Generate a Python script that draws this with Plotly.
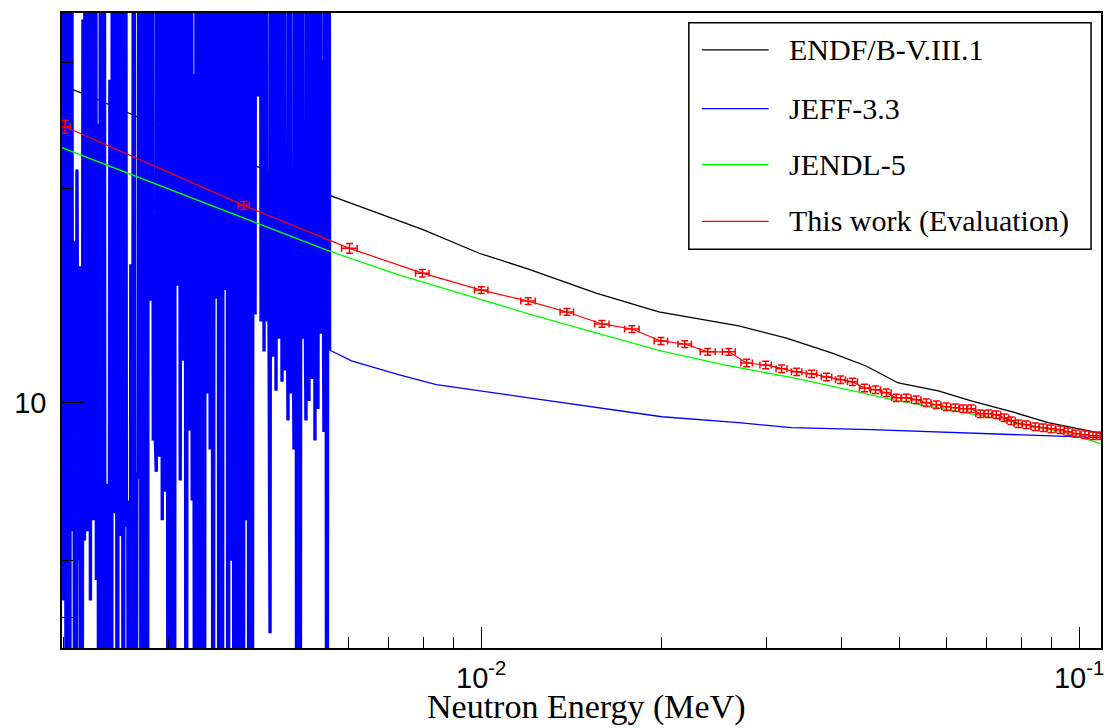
import plotly.graph_objects as go

# ---------------- data ----------------
# ENDF/B curve (black)
endf_energy = [0.001989, 0.002285, 0.003318, 0.004873, 0.005576, 0.007970, 0.009923, 0.01203,
               0.01556, 0.01982, 0.02312, 0.02696, 0.03230, 0.03855, 0.04393, 0.04985,
               0.05815, 0.06601, 0.07819, 0.08876, 0.1075, 0.1088]
endf_xs = [27.9, 26.62, 23.25, 20.44, 19.54, 17.51, 16.21, 15.39, 14.25, 13.41, 13.11, 12.82,
           12.33, 11.75, 11.27, 10.66, 10.39, 10.06, 9.683, 9.376, 9.080, 9.05]

# JEFF-3.3 resolved resonance region (blue, energies in keV)
jeff_res_energy_keV = [
    1.9890, 2.0005, 2.0121, 2.0237, 2.0354, 2.0472, 2.0590, 2.0709, 2.0829, 2.0950,
    2.1071, 2.1193, 2.1316, 2.1439, 2.1563, 2.1688, 2.1813, 2.1939, 2.2066, 2.2194,
    2.2322, 2.2451, 2.2581, 2.2712, 2.2843, 2.2975, 2.3108, 2.3242, 2.3376, 2.3511,
    2.3647, 2.3784, 2.3921, 2.4059, 2.4198, 2.4338, 2.4479, 2.4621, 2.4763, 2.4906,
    2.5050, 2.5195, 2.5341, 2.5488, 2.5635, 2.5783, 2.5932, 2.6082, 2.6233, 2.6385,
    2.6537, 2.6691, 2.6845, 2.7000, 2.7156, 2.7313, 2.7471, 2.7630, 2.7790, 2.7950,
    2.8112, 2.8275, 2.8438, 2.8603, 2.8768, 2.8934, 2.9102, 2.9270, 2.9439, 2.9609,
    2.9781, 2.9953, 3.0126, 3.0300, 3.0475, 3.0651, 3.0829, 3.1007, 3.1186, 3.1367,
    3.1548, 3.1731, 3.1914, 3.2099, 3.2284, 3.2471, 3.2659, 3.2848, 3.3038, 3.3229,
    3.3421, 3.3614, 3.3808, 3.4004, 3.4200, 3.4398, 3.4597, 3.4797, 3.4998, 3.5201,
    3.5404, 3.5609, 3.5815, 3.6022, 3.6230, 3.6440, 3.6651, 3.6863, 3.7076, 3.7290,
    3.7506, 3.7723, 3.7941, 3.8160, 3.8381, 3.8603, 3.8826, 3.9051, 3.9276, 3.9503,
    3.9732, 3.9962, 4.0193, 4.0425, 4.0659, 4.0894, 4.1130, 4.1368, 4.1607, 4.1848,
    4.2090, 4.2333, 4.2578, 4.2824, 4.3072, 4.3321, 4.3571, 4.3823, 4.4077, 4.4332,
    4.4588, 4.4846, 4.5105, 4.5366, 4.5628, 4.5892, 4.6157, 4.6424, 4.6693, 4.6963,
    4.7234, 4.7507, 4.7782, 4.8058, 4.8336, 4.8616, 4.8897, 4.9180, 4.9464, 4.9750,
    5.0038, 5.0327, 5.0618, 5.0911, 5.1205, 5.1501, 5.1799, 5.2099, 5.2400, 5.2703,
    5.3008, 5.3314, 5.3622, 5.3932, 5.4244, 5.4558, 5.4873, 5.5190, 5.5509]
jeff_res_xs = [
    3000, 5.28, 2400, 0.16, 4000, 0.24, 1900, 6.6, 16.85, 0.18,
    21.25, 6.01, 15.54, 0.14, 34.5, 6.41, 3200, 6.6, 2200, 5.28,
    4800, 6.84, 2600, 5.64, 24.64, 0.2, 3600, 0.3, 2000, 0.12,
    7.70, 0.24, 28.39, 0.16, 4400, 7.0, 2800, 0.18, 3300, 6.5,
    1900, 0.28, 3700, 6.7, 7.29, 0.16, 15.65, 0.22, 2500, 0.14,
    7.78, 8.0, 3100, 0.24, 4200, 0.18, 2700, 0.3, 3400, 13.9,
    2100, 8.85, 9.5, 8.0, 3800, 8.4, 2900, 6.84, 5000, 7.5,
    2300, 0.16, 3500, 0.24, 2600, 0.18, 3900, 14.6, 2000, 7.78,
    3000, 11.45, 4400, 0.16, 2500, 9.14, 3300, 7.29, 28.9, 0.24,
    3700, 0.18, 2200, 0.28, 4100, 0.14, 2800, 10.3, 3500, 8.6,
    2400, 0.18, 4600, 14.0, 2900, 0.16, 3200, 0.3, 2100, 14.4,
    3800, 0.18, 2600, 6.0, 4300, 0.24, 3000, 0.14, 2300, 0.22,
    3600, 0.18, 2700, 6.84, 4000, 0.16, 3100, 0.28, 2500, 13.3,
    3900, 26.9, 2200, 13.0, 3400, 11.8, 2800, 13.0, 21.1, 4.75,
    3600, 11.6, 2400, 10.4, 4100, 12.3, 2900, 10.7, 3300, 11.1,
    22.66, 9.44, 2600, 10.3, 19.48, 8.6, 3700, 0.18, 2300, 0.24,
    4200, 12.3, 20.31, 9.44, 3000, 10.06, 2500, 10.8, 3800, 8.85,
    2700, 9.8, 3500, 12.5, 30.27, 9.1, 3200, 0.18, 2600]

# JEFF-3.3 above the resonance region (blue, MeV)
jeff_energy = [0.005576, 0.006067, 0.007294, 0.008411, 0.009190, 0.01203, 0.01556, 0.02005,
               0.02696, 0.03305, 0.04494, 0.05660, 0.07612, 0.08876, 0.1088]
jeff_xs = [11.86, 11.45, 10.94, 10.60, 10.49, 10.16, 9.84, 9.559,
           9.376, 9.227, 9.168, 9.109, 9.021, 8.992, 8.935]

# JENDL-5 (green)
jendl_energy = [0.001989, 0.005576, 0.007211, 0.009296, 0.01203, 0.01556, 0.02005, 0.02595,
                0.03395, 0.04985, 0.07322, 0.09476, 0.1088]
jendl_xs = [22.80, 16.32, 15.15, 14.21, 13.32, 12.53, 11.82, 11.27,
            10.80, 10.06, 9.498, 9.080, 8.763]

# This work (Evaluation) (red) with relative uncertainties in %
eval_energy = [0.002013, 0.004006, 0.006020, 0.007970, 0.01000, 0.01198, 0.01391, 0.01592,
               0.01787, 0.01998, 0.02190, 0.02393, 0.02595, 0.02780, 0.02991, 0.03180,
               0.03370, 0.03569, 0.03781, 0.03990, 0.04179, 0.04376, 0.04565, 0.04762,
               0.04948, 0.05141, 0.05342, 0.05553, 0.05770, 0.05996, 0.06207, 0.06401,
               0.06601, 0.06836, 0.07049, 0.07270, 0.07497, 0.07701, 0.07911, 0.08158,
               0.08445, 0.08709, 0.08981, 0.09297, 0.09586, 0.09885, 0.1023, 0.1055, 0.1084]
eval_xs = [24.40, 18.92, 16.47, 15.20, 14.39, 13.89, 13.41, 12.90,
           12.69, 12.21, 12.09, 11.79, 11.79, 11.37, 11.30, 11.16,
           11.05, 10.98, 10.87, 10.77, 10.70, 10.49, 10.43, 10.33,
           10.16, 10.16, 10.10, 10.00, 9.936, 9.872, 9.84, 9.809,
           9.809, 9.652, 9.652, 9.621, 9.528, 9.437, 9.347, 9.317,
           9.256, 9.227, 9.197, 9.168, 9.109, 9.051, 9.021, 8.992, 8.992]
eval_dE_pct = [2.0, 2.2, 3.0, 2.6, 2.6, 2.8, 2.6, 2.8, 2.8, 2.6, 2.6, 2.9, 2.5,
               2.2, 2.2, 2.1, 2.0, 2.0, 2.0, 1.9, 1.9, 1.9, 1.9, 1.8, 1.8, 1.8,
               1.8, 1.8, 1.8, 1.7, 1.7, 1.7, 1.7, 1.7, 1.7, 1.7, 1.7, 1.6, 1.6,
               1.6, 1.6, 1.6, 1.6, 1.6, 1.6, 1.5, 1.5, 1.5, 1.5]
eval_dxs_pct = [2.1, 1.3, 1.6, 1.2, 1.1, 1.1, 1.1, 1.1, 1.1, 1.1, 1.1, 1.1, 1.1,
                1.2, 1.2, 1.2, 1.2, 1.2, 1.2, 1.2, 1.2, 1.2, 1.2, 1.2, 1.2, 1.2,
                1.2, 1.2, 1.2, 1.2, 1.2, 1.2, 1.2, 1.2, 1.2, 1.2, 1.2, 1.2, 1.2,
                1.2, 1.2, 1.2, 1.2, 1.2, 1.2, 1.2, 1.2, 1.2, 1.2]

# axis ticks
x_major_ticks = [0.01, 0.1]
x_tick_labels = ["10<sup>-2</sup>", "10<sup>-1</sup>"]
x_minor_ticks = [0.002, 0.003, 0.004, 0.005, 0.006, 0.007, 0.008, 0.009,
                 0.02, 0.03, 0.04, 0.05, 0.06, 0.07, 0.08, 0.09]
y_major_ticks = [10]
y_tick_labels = ["10"]
y_minor_ticks = [5, 6, 7, 8, 9, 20, 30]

x_title = "Neutron Energy (MeV)"
legend_names = ["ENDF/B-V.III.1", "JEFF-3.3", "JENDL-5", "This work (Evaluation)"]
legend_colors = ["#000000", "#0000ff", "#00ff00", "#ff0000"]

# ---------------- figure ----------------
fig = go.Figure()

fig.add_trace(go.Scatter(x=endf_energy, y=endf_xs, mode="lines", name=legend_names[0],
                         line=dict(color=legend_colors[0], width=1.3), showlegend=False))

res_x = [e / 1000.0 for e in jeff_res_energy_keV] + jeff_energy[:1]
res_y = jeff_res_xs + jeff_xs[:1]
fig.add_trace(go.Scatter(x=res_x, y=res_y, mode="lines", name=legend_names[1],
                         line=dict(color=legend_colors[1], width=3.4, simplify=False),
                         showlegend=False))
fig.add_trace(go.Scatter(x=jeff_energy, y=jeff_xs, mode="lines", name=legend_names[1],
                         line=dict(color=legend_colors[1], width=1.3), showlegend=False))

fig.add_trace(go.Scatter(x=jendl_energy, y=jendl_xs, mode="lines", name=legend_names[2],
                         line=dict(color=legend_colors[2], width=1.3), showlegend=False))

fig.add_trace(go.Scatter(
    x=eval_energy, y=eval_xs, mode="lines", name=legend_names[3],
    line=dict(color=legend_colors[3], width=1.2),
    error_x=dict(type="data", array=[e * p / 100 for e, p in zip(eval_energy, eval_dE_pct)],
                 color=legend_colors[3], thickness=1.5, width=3.5),
    error_y=dict(type="data", array=[v * p / 100 for v, p in zip(eval_xs, eval_dxs_pct)],
                 color=legend_colors[3], thickness=1.5, width=3.5),
    showlegend=False))

axis_common = dict(showline=True, linecolor="black", linewidth=1.5, mirror=True,
                   ticks="inside", ticklen=21, tickwidth=1.2, tickcolor="black",
                   showgrid=False, zeroline=False,
                   tickfont=dict(family="Liberation Sans, Arial, sans-serif", size=29, color="black"))

fig.update_xaxes(type="log", range=[-2.7013, -0.9633],
                 tickmode="array", tickvals=x_major_ticks, ticktext=x_tick_labels,
                 minor=dict(tickmode="array", tickvals=x_minor_ticks, ticks="inside",
                            ticklen=11, tickwidth=1.2, tickcolor="black", showgrid=False),
                 ticklabelstandoff=3,
                 **axis_common)
fig.update_yaxes(type="log", range=[0.6559, 1.5469],
                 tickmode="array", tickvals=y_major_ticks, ticktext=y_tick_labels,
                 minor=dict(tickmode="array", tickvals=y_minor_ticks, ticks="inside",
                            ticklen=11, tickwidth=1.2, tickcolor="black", showgrid=False),
                 ticklabelstandoff=8,
                 **axis_common)

# ---------------- legend (ROOT-style box) and axis title ----------------
serif = "Liberation Serif, Times New Roman, serif"
shapes = [dict(type="rect", xref="paper", yref="paper", x0=0.6033, x1=0.9904, y0=0.6279, y1=0.9848,
               line=dict(color="black", width=1.5), fillcolor="white", layer="above")]
annotations = [dict(xref="paper", yref="paper", x=0.505, y=-0.1255, text=x_title, showarrow=False,
                    xanchor="center", yanchor="bottom",
                    font=dict(family=serif, size=34, color="black"))]
legend_rows = [0.9419, 0.8493, 0.7614, 0.6719]
for name, color, yrow in zip(legend_names, legend_colors, legend_rows):
    shapes.append(dict(type="line", xref="paper", yref="paper", x0=0.6158, x1=0.6801, y0=yrow, y1=yrow,
                       line=dict(color=color, width=1.3), layer="above"))
    annotations.append(dict(xref="paper", yref="paper", x=0.6974, y=yrow, text=name, showarrow=False,
                            xanchor="left", yanchor="middle",
                            font=dict(family=serif, size=30, color="black")))

fig.update_layout(width=1115, height=728, margin=dict(l=62, r=12, t=11, b=80),
                  paper_bgcolor="white", plot_bgcolor="white",
                  shapes=shapes, annotations=annotations, showlegend=False)

fig.write_html("out.html")
